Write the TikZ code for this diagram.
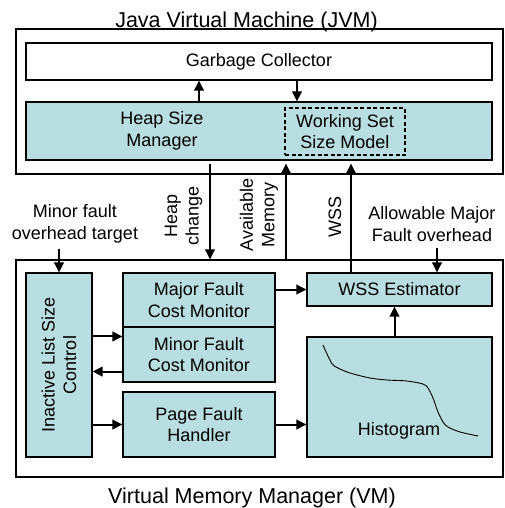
\documentclass[tikz,border=0pt]{standalone}
\usepackage{fontspec}
\setmainfont{Liberation Sans}
\usepackage{tikz}
\usetikzlibrary{arrows.meta}
\definecolor{boxteal}{RGB}{184,222,226}
\tikzset{
    box/.style={draw, line width=1.1pt, inner sep=0pt, align=center},
    tealbox/.style={box, fill=boxteal},
    modelbox/.style={draw, line width=1.1pt, dash pattern=on 4pt off 2.5pt, inner sep=0pt, align=center},
    flow/.style={line width=2pt, -{Triangle[length=10pt,width=9.5pt]}},
    txt/.style={inner sep=2pt, align=center},
    sidetxt/.style={txt, rotate=90},
    bigtxt/.style={inner sep=0pt, font=\fontsize{21.5}{25}\selectfont},
}

\begin{document}
\begin{tikzpicture}[x=1pt, y=-1pt, font=\fontsize{18}{21.5}\selectfont]
    \useasboundingbox (0,0) rectangle (505,508);
    % JVM
    \node[box, minimum width=487pt, minimum height=145pt] (jvm) at (259.5,101.5) {};
    \node[bigtxt] (jvmtitle) at (246.5,22) {Java Virtual Machine (JVM)};
    \node[box, minimum width=466pt, minimum height=37pt] (gc) at (259,61.5) {Garbage Collector};
    \node[tealbox, minimum width=466pt, minimum height=58pt] (heap) at (259,131) {};
    \node[txt] (hsm) at (162,131) {Heap Size\\Manager};
    \node[modelbox, minimum width=120pt, minimum height=47pt] (wssm) at (345,131.5) {Working Set\\Size Model};
    % VM
    \node[box, minimum width=487pt, minimum height=217pt] (vm) at (259.5,368.5) {};
    \node[bigtxt] (vmtitle) at (252,497.5) {Virtual Memory Manager (VM)};
    \node[tealbox, rotate=90, minimum width=184pt, minimum height=66pt] (ilc) at (59,365) {Inactive List Size\\Control};
    \node[tealbox, minimum width=152pt, minimum height=54pt] (mjf) at (199,300) {Major Fault\\Cost Monitor};
    \node[tealbox, minimum width=152pt, minimum height=55pt] (mnf) at (199,354.5) {Minor Fault\\Cost Monitor};
    \node[tealbox, minimum width=152pt, minimum height=65pt] (pfh) at (199,424.5) {Page Fault\\Handler};
    \node[tealbox, minimum width=185pt, minimum height=33pt] (wsse) at (399.5,289.5) {WSS Estimator};
    \node[tealbox, minimum width=185pt, minimum height=120pt] (hist) at (399.5,397) {};
    \node[txt] (histtxt) at (399,431) {Histogram};
    \draw[line width=0.9pt] plot[smooth] coordinates {(323,345) (331.5,363) (338,368) (350,373) (370,378) (387,380) (407,381) (423,384) (428,388) (433,398) (438,412) (443,422) (448,427) (460,432) (478,436)};
    % labels between the two
    \node[sidetxt] (hc) at (183.5,216) {Heap\\change};
    \node[sidetxt] (am) at (259,215) {Available\\Memory};
    \node[sidetxt] (wss) at (335,217) {WSS};
    \node[txt] (mft) at (75,224) {Minor fault\\overhead target};
    \node[txt] (amf) at (432,224) {Allowable Major\\Fault overhead};
    \coordinate (xgu) at (199,0);
    \coordinate (xgd) at (297,0);
    \coordinate (xhc) at (210,0);
    \coordinate (xam) at (286,0);
    \coordinate (xws) at (351,0);
    \coordinate (xaw) at (437,0);
    \coordinate (inA) at ([yshift=-10pt]mnf.north west);
    \coordinate (outA) at ([yshift=11pt]mnf.south west);
    % connectors
    \draw[flow] (heap.north -| xgu) -- (gc.south -| xgu);
    \draw[flow] (gc.south -| xgd) -- (heap.north -| xgd);
    \draw[flow, shorten <=3pt] (heap.south -| xhc) -- (vm.north -| xhc);
    \draw[flow, shorten >=3pt] (vm.north -| xam) -- (heap.south -| xam);
    \draw[flow, shorten >=3pt] (wsse.north -| xws) -- (heap.south -| xws);
    \draw[flow, shorten <=4pt] (mft.south -| ilc.east) -- (ilc.east);
    \draw[flow, shorten <=4pt] (amf.south -| xaw) -- (wsse.north -| xaw);
    \draw[flow] (mjf.east |- wsse.west) -- (wsse.west);
    \draw[flow] (inA -| ilc.south) -- (inA);
    \draw[flow] (outA) -- (outA -| ilc.south);
    \draw[flow] (ilc.south |- pfh.west) -- (pfh.west);
    \draw[flow] (pfh.east) -- (pfh.east -| hist.west);
    \draw[flow] ([xshift=-5pt]hist.north) -- ([xshift=-5pt]wsse.south);
\end{tikzpicture}
\end{document}
